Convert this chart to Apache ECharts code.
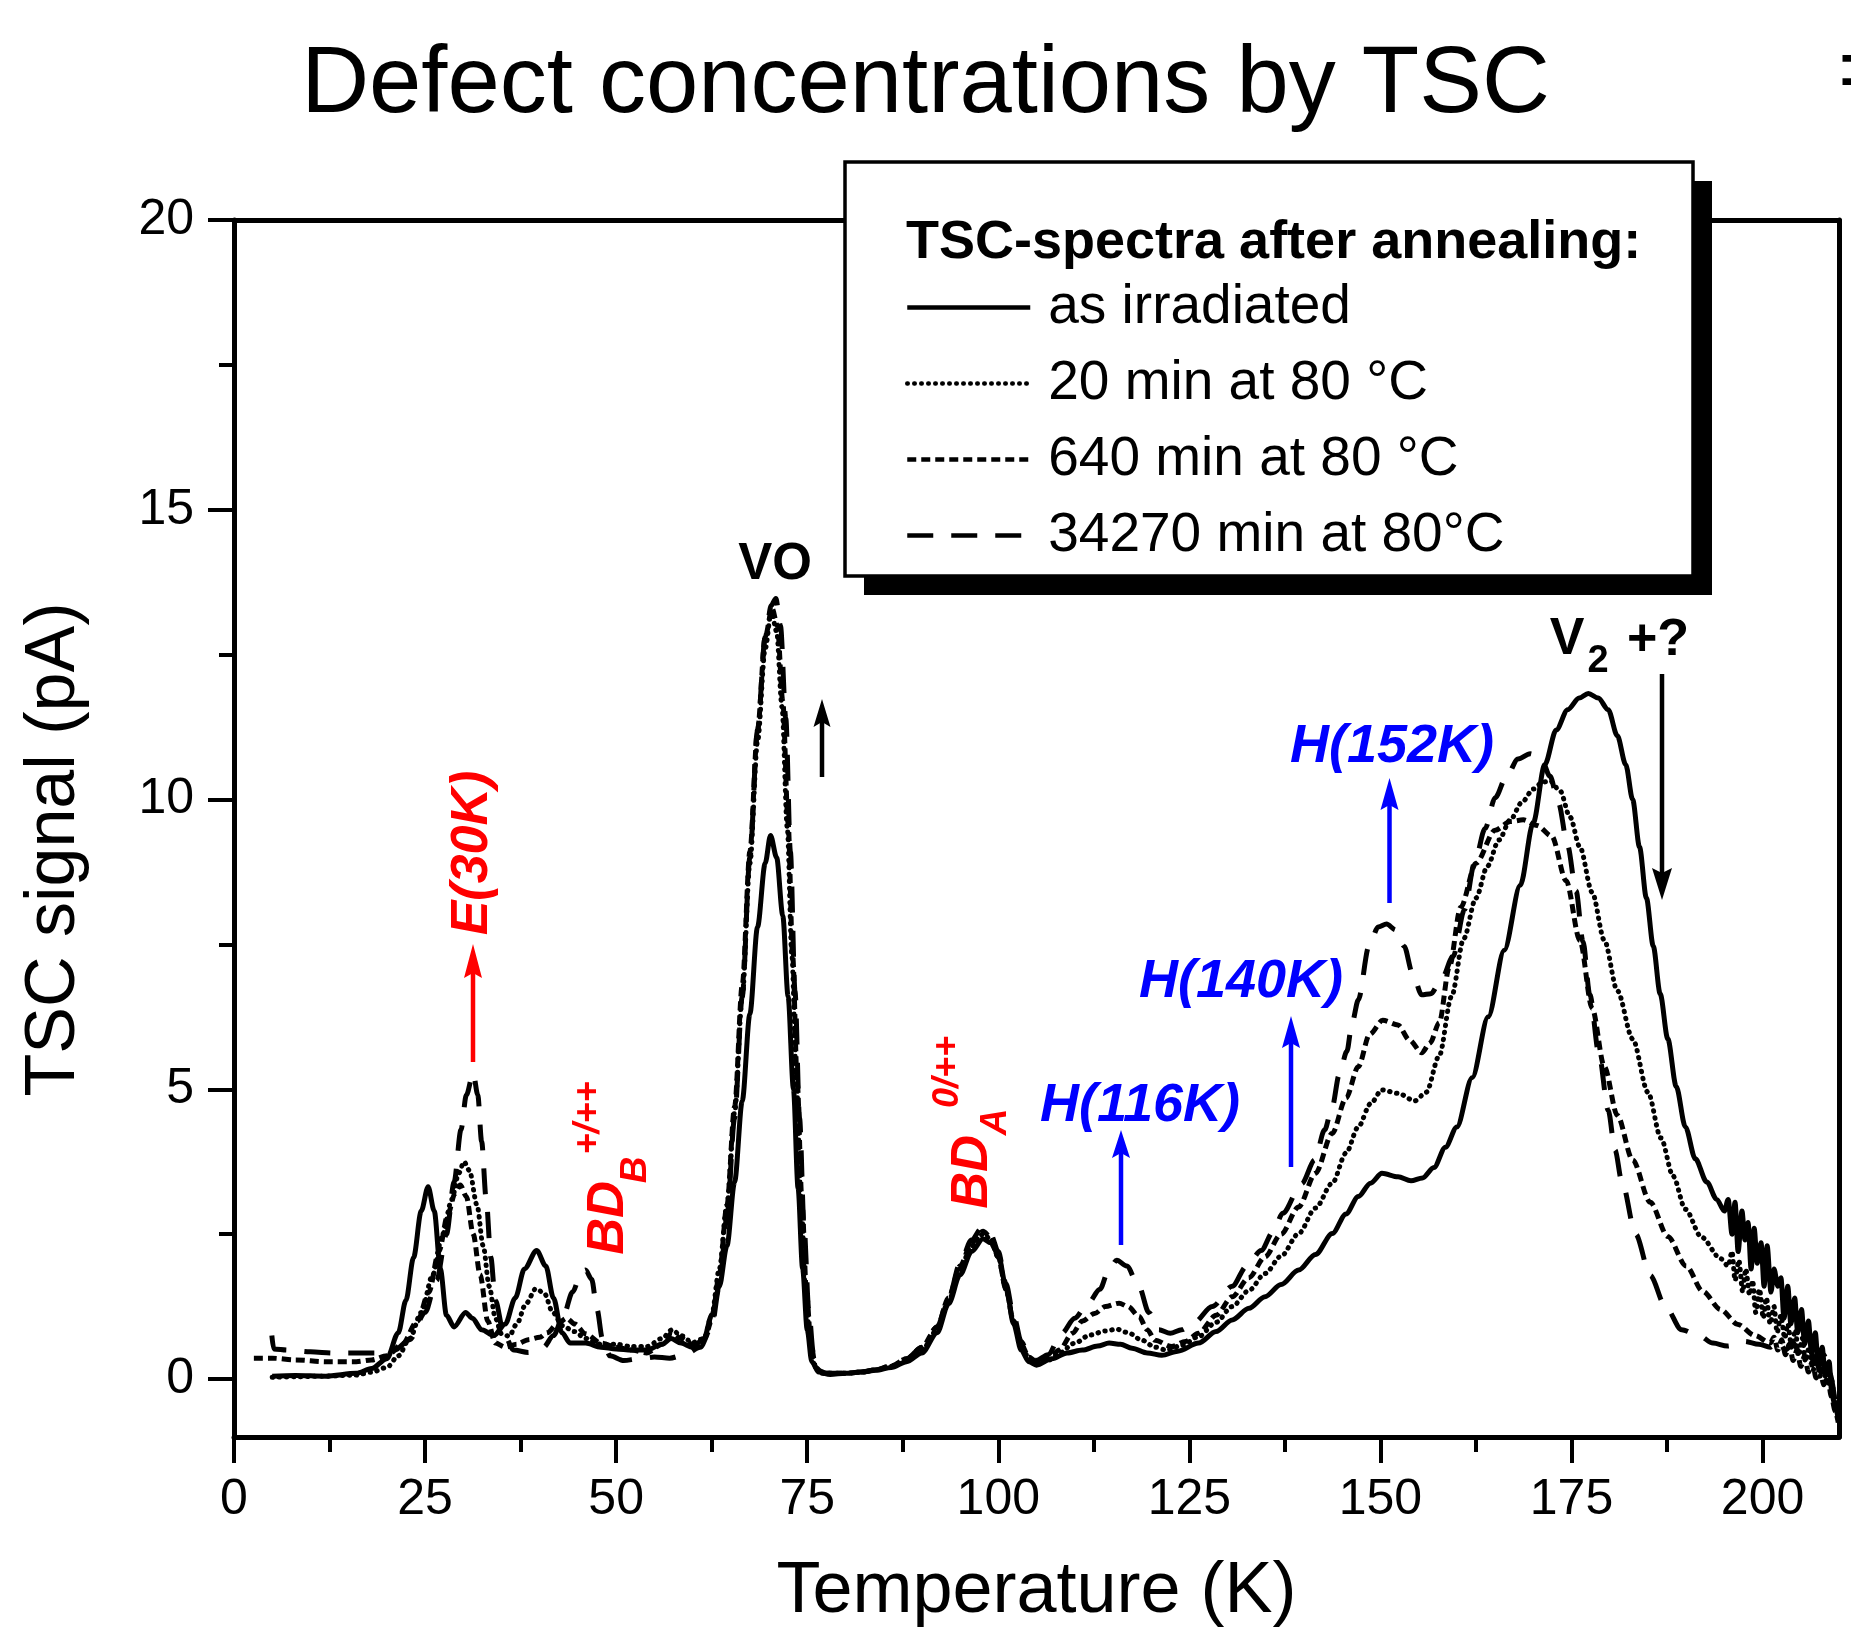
<!DOCTYPE html>
<html><head><meta charset="utf-8">
<script src="https://cdn.jsdelivr.net/npm/echarts@6/dist/echarts.min.js"></script>
<style>html,body{margin:0;padding:0;background:#fff}#c{width:1851px;height:1636px}</style>
</head><body><div id="c"></div>
<script>
// ---------- data ----------
const seriesNames = ['as irradiated', '20 min at 80 °C', '640 min at 80 °C', '34270 min at 80°C'];
const xMajorTicks = [0, 25, 50, 75, 100, 125, 150, 175, 200];
const xMinorTicks = [12.5, 37.5, 62.5, 87.5, 112.5, 137.5, 162.5, 187.5];
const yMajorTicks = [0, 5, 10, 15, 20];
const yMinorTicks = [2.5, 7.5, 12.5, 17.5];

const asIrradiated = [[5,0.05],[8,0.06],[12,0.05],[16,0.1],[18,0.18],[20,0.35],[21.5,0.8],[22.5,1.36],[23.5,2.1],[24.5,2.9],[25.4,3.32],[26.2,2.9],[27,1.9],[27.8,1.1],[28.8,0.9],[30.3,1.15],[31.2,1.05],[32.4,0.85],[34,0.75],[35.5,0.95],[36.8,1.4],[38,1.9],[39.6,2.22],[40.8,1.95],[41.8,1.4],[42.9,0.8],[44,0.62],[46,0.62],[48,0.55],[50,0.52],[52,0.5],[54,0.5],[56,0.6],[57.2,0.7],[58.5,0.62],[60,0.55],[61.5,0.7],[62.5,1.1],[63.5,1.6],[64.5,2.3],[65.5,3.4],[66.5,4.8],[67.5,6.3],[68.5,7.8],[69.5,8.9],[70.2,9.38],[71,9.0],[71.8,8.0],[72.5,6.6],[73.2,5.0],[73.8,3.3],[74.4,1.9],[75,0.85],[75.6,0.3],[76.5,0.12],[78,0.08],[80,0.1],[82,0.12],[84,0.15],[86,0.2],[88,0.3],[90,0.45],[92,0.8],[93.5,1.3],[95,1.8],[96.5,2.2],[98,2.42],[99,2.35],[100,2.15],[101,1.6],[102,0.95],[103,0.5],[104,0.3],[105,0.24],[107,0.35],[109,0.45],[111,0.5],[113,0.57],[114.5,0.62],[116,0.6],[117.5,0.53],[119.5,0.45],[121.4,0.41],[123.5,0.48],[126.2,0.62],[128.5,0.82],[130.6,1.02],[132.8,1.22],[134.9,1.42],[137,1.63],[139.3,1.88],[141.5,2.15],[143.7,2.51],[145.5,2.85],[147.1,3.15],[148.7,3.38],[150.2,3.55],[152.3,3.49],[154,3.42],[155.5,3.47],[157,3.65],[158.5,4.0],[160,4.35],[162,5.2],[164.1,6.25],[166.2,7.4],[168.3,8.52],[170,9.6],[171.5,10.6],[173,11.2],[174.5,11.55],[176,11.75],[177.2,11.83],[178.5,11.75],[179.8,11.55],[181,11.1],[182.1,10.6],[183,10.0],[183.9,9.18],[184.8,8.3],[185.7,7.47],[186.6,6.65],[187.6,5.87],[188.7,5.05],[189.9,4.35],[191.2,3.8],[192.7,3.4],[194,3.1],[195,2.9],[195.5,3.1],[196,2.5],[196.4,3.05],[196.8,2.2],[197.3,2.9],[197.7,2.4],[198.1,2.7],[198.5,1.9],[198.9,2.6],[199.3,2.0],[199.8,2.35],[200.2,1.6],[200.6,2.3],[201.1,1.5],[201.5,1.9],[202,1.6],[202.4,1.75],[202.8,1.05],[203.3,1.6],[203.7,0.95],[204.2,1.4],[204.6,0.8],[205.1,1.2],[205.5,0.6],[206,1.0],[206.4,0.45],[206.9,0.8],[207.3,0.2],[207.8,0.55],[208.2,0.05],[208.7,0.3],[209.1,-0.3],[209.5,-0.45],[209.9,-0.7]];

const min20 = [[5,0.03],[8,0.04],[12,0.05],[16,0.07],[18,0.12],[20,0.2],[21.5,0.4],[23,0.7],[24.5,1.15],[26,1.8],[27.3,2.5],[28.5,3.1],[29.4,3.55],[30.1,3.75],[30.8,3.6],[31.8,3.0],[32.6,2.3],[33.4,1.6],[34.2,1.05],[35,0.78],[36,0.74],[37,0.95],[38.2,1.3],[39.5,1.56],[40.6,1.48],[41.7,1.15],[43,0.92],[44.5,0.82],[46,0.7],[48,0.6],[50,0.6],[52,0.56],[54,0.56],[56,0.7],[57.3,0.85],[58.5,0.75],[60,0.63],[61.5,0.7],[62.5,1.1],[63.5,1.9],[64.5,3.0],[65.5,4.6],[66.5,6.6],[67.5,8.9],[68.5,11.0],[69.5,12.6],[70.3,13.25],[71,12.9],[71.7,11.6],[72.4,9.5],[73,7.3],[73.6,5.1],[74.2,3.1],[74.8,1.5],[75.4,0.6],[76,0.2],[77,0.1],[80,0.1],[82,0.12],[84,0.16],[86,0.22],[88,0.33],[90,0.5],[92,0.85],[93.5,1.35],[95,1.9],[96.5,2.3],[98,2.5],[99,2.42],[100,2.1],[101,1.55],[102,1.0],[103,0.58],[104,0.36],[105,0.28],[106.5,0.32],[108,0.45],[110,0.62],[112,0.76],[114,0.83],[115.5,0.86],[117,0.8],[118.8,0.67],[120.5,0.55],[122,0.5],[124,0.58],[126.2,0.73],[128.5,0.98],[130.6,1.25],[132.8,1.53],[134.9,1.82],[137,2.12],[139.3,2.51],[141.5,2.95],[143.7,3.38],[145.5,3.9],[147.1,4.35],[148.7,4.75],[150.2,4.99],[152.3,4.93],[154.5,4.8],[156,4.95],[157.7,5.58],[159.3,6.6],[160.9,7.6],[162.5,8.3],[164,8.85],[165.5,9.3],[167,9.65],[168.5,9.95],[170,10.18],[171.2,10.3],[172.2,10.32],[173.5,10.15],[174.8,9.7],[176.1,9.18],[177.7,8.4],[179.3,7.57],[181,6.7],[183,5.87],[185,4.95],[186.7,4.16],[188.3,3.5],[189.9,2.93],[192,2.45],[194.5,2.08],[195.5,1.95],[196,2.2],[196.4,1.7],[196.9,2.05],[197.4,1.5],[197.8,1.9],[198.3,1.45],[198.7,1.7],[199.1,1.15],[199.6,1.55],[200.1,1.05],[200.5,1.4],[201,0.95],[201.5,1.25],[201.9,0.8],[202.4,1.1],[202.9,0.7],[203.3,0.95],[203.8,0.55],[204.3,0.85],[204.7,0.4],[205.2,0.7],[205.6,0.3],[206.1,0.55],[206.6,0.15],[207.1,0.4],[207.5,0.05],[208,0.25],[208.5,-0.1],[209,0.0],[209.5,-0.4],[209.9,-0.6]];

const min640 = [[2.6,0.36],[5,0.36],[8,0.33],[12,0.3],[16,0.3],[18,0.33],[20,0.4],[22,0.6],[24,1.0],[25.5,1.5],[26.8,2.2],[28,2.85],[28.9,3.2],[29.6,3.35],[30.4,3.15],[31.3,2.5],[32.2,1.8],[33.2,1.0],[34.2,0.62],[35.5,0.55],[37,0.6],[38.5,0.68],[40,0.72],[41,0.8],[42.3,0.95],[43.5,1.05],[44.6,0.95],[46,0.78],[48,0.62],[50,0.55],[52,0.5],[54,0.45],[56,0.6],[57.3,0.8],[58.5,0.7],[60,0.6],[61.5,0.68],[62.5,1.0],[63.5,1.8],[64.5,3.0],[65.5,4.7],[66.5,6.8],[67.5,9.1],[68.5,11.2],[69.5,12.8],[70.4,13.3],[71.1,13.0],[71.8,11.7],[72.5,9.6],[73.1,7.3],[73.7,5.1],[74.3,3.1],[74.9,1.5],[75.5,0.6],[76.1,0.2],[77,0.1],[80,0.1],[82,0.12],[84,0.16],[86,0.23],[88,0.35],[90,0.55],[92,0.9],[93.5,1.4],[95,1.95],[96.5,2.35],[98,2.55],[99,2.45],[100,2.1],[101,1.55],[102,1.0],[103,0.6],[104,0.38],[105,0.3],[106.5,0.35],[108,0.5],[109.7,0.79],[111,1.0],[112.6,1.13],[114,1.25],[115.8,1.31],[117,1.25],[118.4,1.08],[119.5,0.85],[120.5,0.67],[122.7,0.56],[124.5,0.65],[126.2,0.79],[128.5,1.1],[130.6,1.42],[132.8,1.75],[134.9,2.11],[137,2.5],[139.3,2.97],[141.5,3.55],[143.7,4.24],[145.5,4.85],[147.1,5.39],[148.6,5.95],[150.3,6.19],[152.3,6.11],[153.8,5.85],[155.4,5.63],[156.5,5.8],[157.7,6.15],[159,7.1],[160.5,8.14],[162.5,8.9],[165,9.47],[167,9.62],[168.7,9.65],[170.5,9.55],[172.4,9.37],[174.3,8.6],[176.1,7.57],[177.7,6.4],[179.3,5.39],[181,4.55],[183,3.78],[185.3,3.05],[187.6,2.46],[190,1.95],[192.2,1.51],[194.5,1.2],[196.8,0.94],[199,0.75],[201,0.62],[201.5,0.72],[202,0.5],[202.5,0.68],[203,0.42],[203.5,0.6],[204,0.32],[204.5,0.5],[205,0.22],[205.5,0.4],[206,0.12],[206.5,0.3],[207,0.02],[207.5,0.18],[208,-0.1],[208.5,0.05],[209,-0.3],[209.5,-0.55],[209.9,-0.75]];

const min34270 = [[4.95,0.75],[5.2,0.52],[7,0.5],[10,0.47],[13,0.45],[16,0.45],[19,0.45],[21,0.5],[23,0.68],[25,1.15],[26.5,1.7],[27.8,2.5],[28.8,3.4],[29.7,4.3],[30.4,4.9],[31.3,5.28],[31.9,4.9],[32.4,4.1],[33,3.1],[33.6,2.1],[34.2,1.36],[35.3,0.78],[36.6,0.5],[38.5,0.46],[40.5,0.55],[41.8,0.75],[43,1.05],[44.3,1.5],[45.4,1.82],[46,1.88],[46.8,1.72],[47.5,1.2],[48.2,0.7],[49.2,0.4],[51,0.32],[53,0.35],[55,0.38],[57,0.36],[59,0.42],[61,0.55],[62.5,0.9],[63.5,1.6],[64.5,2.8],[65.5,4.5],[66.5,6.6],[67.5,9.0],[68.5,11.2],[69.5,12.8],[70.3,13.35],[70.9,13.47],[71.5,13.0],[72.2,11.4],[72.8,9.1],[73.4,6.7],[74,4.5],[74.6,2.6],[75.2,1.2],[75.8,0.45],[76.4,0.15],[77.5,0.1],[80,0.1],[82,0.12],[84,0.16],[86,0.23],[88,0.35],[90,0.55],[92,0.9],[93.5,1.4],[95,2.0],[96.5,2.4],[97.8,2.6],[99,2.5],[100,2.2],[101,1.65],[102,1.1],[103,0.65],[104,0.4],[105,0.32],[106.5,0.42],[108.3,0.79],[110,1.05],[111.7,1.3],[113.3,1.55],[114.5,1.9],[115.5,2.05],[116.8,1.95],[118.4,1.6],[119.7,1.15],[121,0.85],[122.5,0.79],[124,0.85],[125.5,0.96],[128,1.25],[130.6,1.6],[132.5,1.95],[134.4,2.22],[136,2.55],[137.2,2.86],[139.7,3.37],[141.4,3.78],[142.7,4.3],[143.7,4.7],[144.6,5.25],[145.6,5.65],[146.3,6.15],[147.1,6.54],[148.5,7.47],[149.7,7.8],[150.8,7.85],[152,7.75],[153.1,7.47],[154.2,7.0],[155.4,6.63],[156.6,6.65],[158,6.9],[159.5,7.29],[161,8.1],[162.3,8.9],[163.7,9.5],[165,10.03],[166.5,10.4],[168,10.7],[169.6,10.79],[171,10.72],[172.2,10.4],[173.3,9.94],[174.5,9.2],[175.6,8.42],[176.5,7.55],[177.4,6.63],[178.6,5.6],[179.8,4.64],[180.7,3.95],[181.6,3.4],[183.4,2.5],[185.3,1.79],[187.3,1.25],[189.4,0.85],[191.7,0.75],[193.5,0.62],[195.4,0.57],[197.7,0.65],[199.5,0.6],[201,0.55],[202,0.68],[203,0.5],[204,0.62],[205,0.42],[206,0.55],[207,0.3],[208,0.42],[208.8,0.1],[209.5,-0.4]];

// ---------- chart ----------
const FONT = '"Liberation Sans", Arial, Helvetica, sans-serif';
const chart = echarts.init(document.getElementById('c'), null, {renderer: 'canvas'});

function vArrow(x, yTail, yTip, color, headLen, headW, lw) {
  const dir = yTip > yTail ? 1 : -1;
  const yB = yTip - dir * headLen;
  const yN = yB + dir * 5;
  return [
    {type: 'line', shape: {x1: x, y1: yTail, x2: x, y2: yN + dir * 2}, style: {stroke: color, lineWidth: lw}, z: 15},
    {type: 'polygon', shape: {points: [[x, yTip], [x - headW / 2, yB], [x, yN], [x + headW / 2, yB]]}, style: {fill: color}, z: 15}
  ];
}
function txt(x, y, text, font, color, rot, align) {
  return {type: 'text', x: x, y: y, rotation: rot || 0, z: 16,
    style: {text: text, font: font, fill: color, align: align || 'center', textAlign: align || 'center',
            verticalAlign: 'middle', textVerticalAlign: 'middle'}};
}
const R90 = Math.PI / 2;
const RED = '#ff0000', BLUE = '#0000ff', BLK = '#000000';
const fBI = s => 'italic bold ' + s + 'px ' + FONT;
const fB = s => 'bold ' + s + 'px ' + FONT;

const graphics = [
  {type: 'rect', shape: {x: 864, y: 181, width: 848, height: 414}, style: {fill: '#000'}, z: 9},
  {type: 'rect', shape: {x: 845, y: 162, width: 848, height: 414}, style: {fill: '#fff', stroke: '#000', lineWidth: 3.5}, z: 10},
  txt(906, 243, 'TSC-spectra after annealing:', fB(54), BLK, 0, 'left'),
  txt(1838, 76, '=', '92px ' + FONT, BLK, 0, 'left'),
  txt(775, 565, 'VO', fB(51), BLK),
  txt(473, 853, 'E(30K)', fBI(52), RED, R90),
  txt(609, 1218, 'BD', fBI(51), RED, R90),
  txt(636, 1170, 'B', fBI(37), RED, R90),
  txt(589, 1118, '+/++', fBI(36), RED, R90),
  txt(973, 1172, 'BD', fBI(51), RED, R90),
  txt(996, 1122, 'A', fBI(37), RED, R90),
  txt(948, 1072, '0/++', fBI(36), RED, R90),
  txt(1140, 1106, 'H(116K)', fBI(54), BLUE),
  txt(1241, 982, 'H(140K)', fBI(54), BLUE),
  txt(1392, 747, 'H(152K)', fBI(54), BLUE),
  txt(1567, 640, 'V', fB(52), BLK),
  txt(1598, 662, '2', fB(38), BLK),
  txt(1658, 641, '+?', fB(52), BLK)
].concat(
  vArrow(473, 1062, 944, RED, 34, 18, 4.5),
  vArrow(822, 777, 699, BLK, 28, 17, 4.5),
  vArrow(1121, 1245, 1130, BLUE, 28, 18, 4.5),
  vArrow(1291, 1167, 1016, BLUE, 32, 18, 4.5),
  vArrow(1389.5, 903, 778, BLUE, 32, 18, 4.5),
  vArrow(1662, 674, 900, BLK, 32, 20, 4.5)
);

const axLine = {show: true, onZero: false, lineStyle: {color: '#000', width: 5}};
const noLine = {show: false, onZero: false};

const option = {
  animation: false,
  backgroundColor: '#ffffff',
  textStyle: {fontFamily: FONT},
  title: {text: 'Defect concentrations by TSC', left: 'center', top: 34,
          textStyle: {fontSize: 94, fontWeight: 'normal', color: '#000', fontFamily: FONT}},
  grid: {left: 234, right: 12, top: 220, bottom: 199, containLabel: false, outerBoundsMode: 'none'},
  legend: {
    data: seriesNames, orient: 'vertical', left: 905, top: 280, padding: 0,
    itemWidth: 123, itemHeight: 12, itemGap: 21, selectedMode: false, z: 20,
    textStyle: {fontSize: 55, color: '#000', lineHeight: 55, fontFamily: FONT, padding: [0, 0, 0, 13]},
    lineStyle: {width: 4.5}, itemStyle: {opacity: 0}
  },
  xAxis: [
    {type: 'value', min: 0, max: 210, position: 'bottom', axisLine: axLine,
     name: 'Temperature (K)', nameLocation: 'middle', nameGap: 119,
     nameTextStyle: {fontSize: 72, color: '#000', fontFamily: FONT},
     axisTick: {show: true, inside: false, length: 26, lineStyle: {color: '#000', width: 4}, customValues: xMajorTicks},
     axisLabel: {show: true, fontSize: 50, color: '#000', margin: 38, fontFamily: FONT, customValues: xMajorTicks},
     splitLine: {show: false}, minorTick: {show: false}},
    {type: 'value', min: 0, max: 210, position: 'bottom', axisLine: noLine,
     axisTick: {show: true, inside: false, length: 15, lineStyle: {color: '#000', width: 4}, customValues: xMinorTicks},
     axisLabel: {show: false}, splitLine: {show: false}},
    {type: 'value', min: 0, max: 210, position: 'top', axisLine: axLine,
     axisTick: {show: false}, axisLabel: {show: false}, splitLine: {show: false}}
  ],
  yAxis: [
    {type: 'value', min: -1, max: 20, position: 'left', axisLine: axLine,
     name: 'TSC signal (pA)', nameLocation: 'middle', nameGap: 144, nameRotate: 90,
     nameTextStyle: {fontSize: 70, color: '#000', fontFamily: FONT, padding: [0, 42, 0, 0]},
     axisTick: {show: true, inside: false, length: 26, lineStyle: {color: '#000', width: 4}, customValues: yMajorTicks},
     axisLabel: {show: true, fontSize: 50, color: '#000', margin: 40, fontFamily: FONT, customValues: yMajorTicks},
     splitLine: {show: false}},
    {type: 'value', min: -1, max: 20, position: 'left', axisLine: noLine,
     axisTick: {show: true, inside: false, length: 15, lineStyle: {color: '#000', width: 4}, customValues: yMinorTicks},
     axisLabel: {show: false}, splitLine: {show: false}},
    {type: 'value', min: -1, max: 20, position: 'right', axisLine: axLine,
     axisTick: {show: false}, axisLabel: {show: false}, splitLine: {show: false}}
  ],
  series: [
    {type: 'line', name: seriesNames[0], data: asIrradiated, symbol: 'none', smooth: 0.3, smoothMonotone: 'x',
     lineStyle: {color: '#000', width: 5, type: 'solid'}, itemStyle: {color: '#000'}, z: 5},
    {type: 'line', name: seriesNames[1], data: min20, symbol: 'none', smooth: 0.3, smoothMonotone: 'x',
     lineStyle: {color: '#000', width: 5, type: [0.5, 6.5], cap: 'round'}, itemStyle: {color: '#000'}, z: 5},
    {type: 'line', name: seriesNames[2], data: min640, symbol: 'none', smooth: 0.3, smoothMonotone: 'x',
     lineStyle: {color: '#000', width: 5, type: [9, 5]}, itemStyle: {color: '#000'}, z: 5},
    {type: 'line', name: seriesNames[3], data: min34270, symbol: 'none', smooth: 0.3, smoothMonotone: 'x',
     lineStyle: {color: '#000', width: 5, type: [26, 18]}, itemStyle: {color: '#000'}, z: 5}
  ],
  graphic: graphics
};
chart.setOption(option);
</script></body></html>
